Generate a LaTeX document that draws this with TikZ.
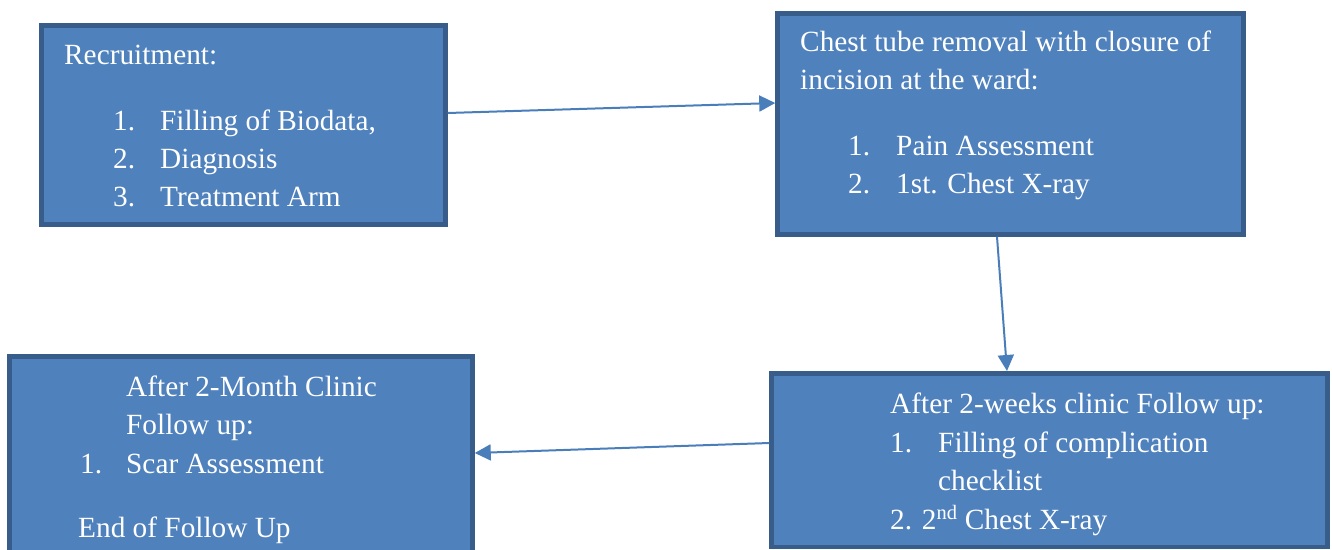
\documentclass[tikz,border=0pt]{standalone}
\usepackage{fontspec}
\setmainfont{Liberation Serif}
\usetikzlibrary{arrows.meta,positioning}

\definecolor{boxfill}{HTML}{4F81BD}
\definecolor{boxline}{HTML}{385D8A}
\definecolor{arrowcol}{HTML}{4A7EBB}

\begin{document}
\begin{tikzpicture}[x=1pt, y=-1pt]
  \tikzset{BoxStyle/.style = {shape        = rectangle,
                              fill         = boxfill,
                              draw         = boxline,
                              line width   = 4.5pt,
                              inner sep    = 0pt},
           TextStyle/.style = {anchor       = base west,
                               inner sep    = 0pt,
                               text         = white,
                               font         = \fontsize{29.3}{35}\selectfont},
           FlowArrow/.style = {draw=arrowcol, line width=2pt,
                               -{Triangle[length=16pt, width=16pt]}}}
  \useasboundingbox (0,0) rectangle (1332,549);
	%%% RECRUITMENT %%%
	\node[BoxStyle, minimum width=404pt, minimum height=199pt](recruit) at (243.5,125){};
	\node[TextStyle](r0) at (64,64){Recruitment:};
	\node[TextStyle](r1n) at (113,130){1.};
	\node[TextStyle](r1) at (160,130){Filling of Biodata,};
	\node[TextStyle](r2n) at (113,168){2.};
	\node[TextStyle](r2) at (160,168){Diagnosis};
	\node[TextStyle](r3n) at (113,206){3.};
	\node[TextStyle](r3) at (160,206){Treatment Arm};
	%%% REMOVAL AT THE WARD %%%
	\node[BoxStyle, minimum width=466pt, minimum height=221pt](removal) at (1010.5,124){};
	\node[TextStyle](w0) at (800,51){Chest tube removal with closure of};
	\node[TextStyle](w0b) at (800,89){incision at the ward:};
	\node[TextStyle](w1n) at (848,155){1.};
	\node[TextStyle](w1) at (896,155){Pain Assessment};
	\node[TextStyle](w2n) at (848,193){2.};
	\node[TextStyle](w2) at (896,193){1st. Chest X-ray};
	%%% 2-WEEKS CLINIC %%%
	\node[BoxStyle, minimum width=556pt, minimum height=173.5pt](weeks) at (1049.5,460){};
	\node[TextStyle](k0) at (890,413){After 2-weeks clinic Follow up:};
	\node[TextStyle](k1n) at (890,452){1.};
	\node[TextStyle](k1) at (938,452){Filling of complication};
	\node[TextStyle](k1b) at (938,490){checklist};
	\node[TextStyle](k2) at (890,529){2. 2\textsuperscript{nd} Chest X-ray};
	%%% 2-MONTH CLINIC %%%
	\node[BoxStyle, minimum width=463pt, minimum height=203.5pt](month) at (241,458){};
	\node[TextStyle](m0) at (126,396){After 2-Month Clinic};
	\node[TextStyle](m0b) at (126,434){Follow up:};
	\node[TextStyle](m1n) at (80,473){1.};
	\node[TextStyle](m1) at (126,473){Scar Assessment};
	\node[TextStyle](m2) at (78,537){End of Follow Up};
	%% ARROWS %%
	\draw[FlowArrow] ([yshift=12pt]recruit.east) -- ([yshift=21pt]removal.west);
	\draw[FlowArrow] ([xshift=-13.5pt]removal.south) -- ([xshift=-42.5pt]weeks.north);
	\draw[FlowArrow] ([yshift=17pt]weeks.west) -- ([yshift=5pt]month.east);
\end{tikzpicture}
\end{document}
